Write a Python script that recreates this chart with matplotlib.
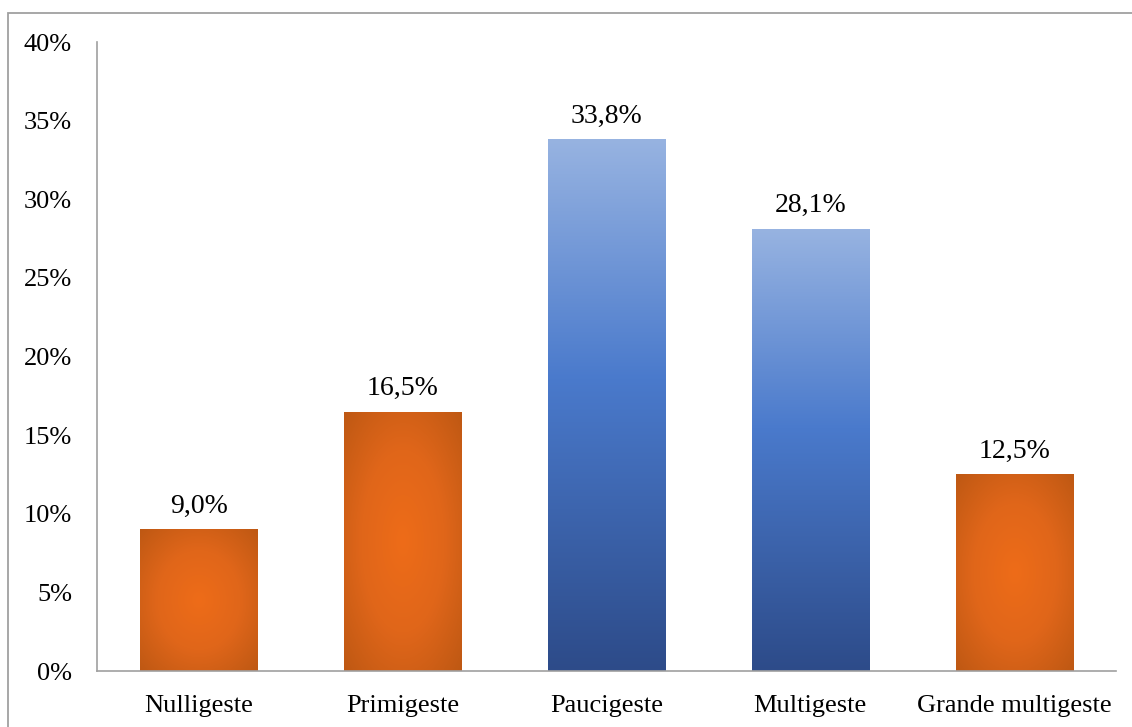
import numpy as np
import matplotlib.pyplot as plt
from matplotlib.colors import LinearSegmentedColormap
from matplotlib.patches import Rectangle

categories = ["Nulligeste", "Primigeste", "Paucigeste", "Multigeste", "Grande multigeste"]
values = [9.0, 16.5, 33.8, 28.1, 12.5]
labels = ["9,0%", "16,5%", "33,8%", "28,1%", "12,5%"]
styles = ["orange", "orange", "blue", "blue", "orange"]

plt.rcParams['font.family'] = ['Liberation Serif', 'DejaVu Serif']

orange_cmap = LinearSegmentedColormap.from_list(
    "orange", ["#EE6C18", "#E0661A", "#BE5813"])
blue_cmap = LinearSegmentedColormap.from_list(
    "blue", [(0.0, "#2D4B89"), (0.55, "#4A7ACC"), (1.0, "#97B3E1")])

fig = plt.figure(figsize=(11.32, 7.27), dpi=100)
ax = fig.add_axes([97 / 1132, 1 - 671 / 727, (1116 - 97) / 1132, (671 - 42) / 727])

# outer frame (only left and top visible)
fig.patches.append(Rectangle((8 / 1132, -0.1), 1.2, 1.1 - 13 / 727,
                             transform=fig.transFigure, fill=False,
                             edgecolor="#A0A0A0", linewidth=1.3))

x = np.arange(len(categories))
width = 0.575
bars = ax.bar(x, values, width=width, color="none", edgecolor="none")

for b, style in zip(bars, styles):
    x0, y0 = b.get_x(), b.get_y()
    w, h = b.get_width(), b.get_height()
    if style == "orange":
        yy, xx = np.mgrid[-1:1:200j, -1:1:200j]
        r = np.sqrt(xx ** 2 + yy ** 2) / np.sqrt(2)
        img = ax.imshow(r, cmap=orange_cmap, vmin=0, vmax=1, origin="lower",
                        extent=[x0, x0 + w, y0, y0 + h], aspect="auto",
                        interpolation="bilinear", zorder=2)
    else:
        g = np.linspace(0, 1, 256).reshape(-1, 1)
        img = ax.imshow(g, cmap=blue_cmap, vmin=0, vmax=1, origin="lower",
                        extent=[x0, x0 + w, y0, y0 + h], aspect="auto",
                        interpolation="bilinear", zorder=2)
    img.set_clip_path(b)

for xi, v, lab in zip(x, values, labels):
    ax.text(xi, v + 0.7, lab, ha="center", va="bottom", fontsize=20)

ax.set_xlim(-0.5, len(categories) - 0.5)
ax.set_ylim(0, 40)
ax.set_yticks(np.arange(0, 41, 5))
ax.set_yticklabels([f"{t}%" for t in range(0, 41, 5)], fontsize=19)
ax.set_xticks(x)
ax.set_xticklabels(categories, fontsize=19)
ax.tick_params(axis="both", length=0)
ax.tick_params(axis="x", pad=17)
ax.tick_params(axis="y", pad=18)

for s in ["top", "right"]:
    ax.spines[s].set_visible(False)
ax.spines["left"].set_color("#A0A0A0")
ax.spines["bottom"].set_color("#A0A0A0")
ax.spines["left"].set_linewidth(1.2)
ax.spines["bottom"].set_linewidth(1.2)

fig.savefig("out.png", dpi=100)
